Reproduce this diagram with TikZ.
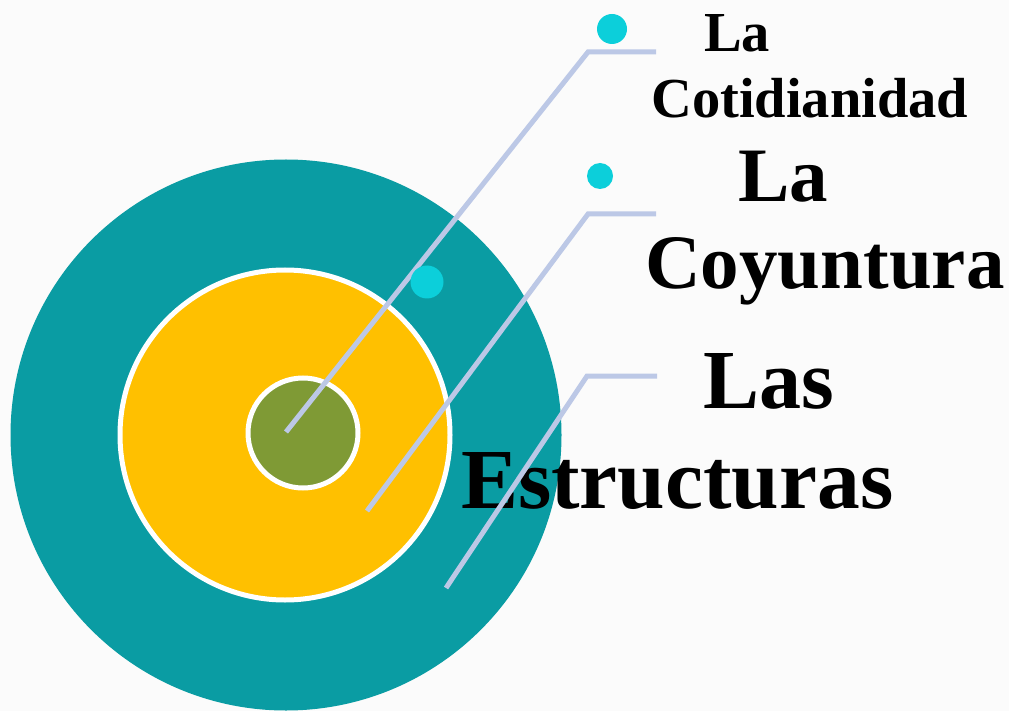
\documentclass[tikz,border=0pt]{standalone}
\usepackage{fontspec}
\setmainfont{Liberation Serif}
\definecolor{bgc}{HTML}{FBFBFB}
\definecolor{tealc}{HTML}{0A9CA3}
\definecolor{goldc}{HTML}{FFC000}
\definecolor{olivec}{HTML}{7F9A35}
\definecolor{lineblue}{HTML}{BCC8E6}
\definecolor{dotcyan}{HTML}{0CCFDA}
\begin{document}
\begin{tikzpicture}[x=1pt,y=-1pt,
  conn/.style={draw=lineblue, line width=5pt},
  dot/.style={circle, fill=dotcyan, inner sep=0pt, minimum size=#1},
  ring/.style={circle, inner sep=0pt, minimum size=#1},
  lbl/.style={anchor=base west, inner sep=0pt}]
\fill[bgc] (0,0) rectangle (1009,711);
\useasboundingbox (0,0) rectangle (1009,711);
\begin{scope}
\clip (0,0) rectangle (1009,711);
\node[ring=551pt, fill=tealc] (outer) at (286,435) {};
\end{scope}
\node[ring=330pt, fill=goldc, draw=white, line width=5pt] (mid) at (285,435) {};
\node[ring=110pt, fill=olivec, draw=white, line width=5pt] (inner) at (303,433) {};
% texts
\node[lbl, font=\bfseries\fontsize{56.5}{56.5}\selectfont] (t1a) at (704,52) {La};
\node[lbl, font=\bfseries\fontsize{56.5}{56.5}\selectfont] (t1b) at (651,118) {Cotidianidad};
\node[lbl, font=\bfseries\fontsize{77}{77}\selectfont] (t2a) at (738,202) {La};
\node[lbl, font=\bfseries\fontsize{77}{77}\selectfont] (t2b) at (645,288) {Coyuntura};
\node[lbl, font=\bfseries\fontsize{84}{84}\selectfont] (t3a) at (703,408) {Las};
\node[lbl, font=\bfseries\fontsize{85.5}{85.5}\selectfont] (t3b) at (461,508) {Estructuras};
% connectors
\coordinate (s1) at (286,432); \coordinate (k1) at (588,52); \coordinate (e1) at (656,52);
\coordinate (s2) at (367,511); \coordinate (k2) at (588,214); \coordinate (e2) at (656,214);
\coordinate (s3) at (446,588); \coordinate (k3) at (587,376); \coordinate (e3) at (657,376);
\draw[conn] (s1) -- (k1) -- (e1);
\draw[conn] (s2) -- (k2) -- (e2);
\draw[conn] (s3) -- (k3) -- (e3);
% dots
\node[dot=30pt] (d1) at (612,29) {};
\node[dot=26pt] (d2) at (600,176) {};
\node[dot=33pt] (d3) at (427,282) {};
\end{tikzpicture}
\end{document}
